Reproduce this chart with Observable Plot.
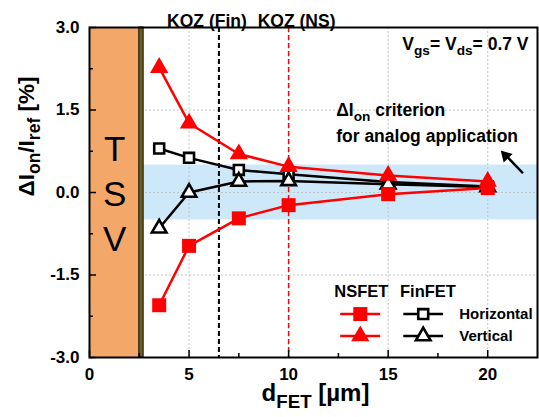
<!DOCTYPE html>
<html>
<head>
<meta charset="utf-8">
<script src="https://cdn.jsdelivr.net/npm/d3@7"></script>
<script src="https://cdn.jsdelivr.net/npm/@observablehq/plot@0.6"></script>
<style>
  html, body { margin: 0; padding: 0; background: #fff; }
  #chart svg { font-family: "Liberation Sans", Arial, sans-serif; }
</style>
</head>
<body>
<div id="chart"></div>
<script>
// ---- data ----
const dFET = [3.5, 5, 7.5, 10, 15, 20];
const nsHorizontal = [-2.05, -0.97, -0.47, -0.23, -0.03, 0.08];
const nsVertical = [2.27, 1.26, 0.70, 0.47, 0.31, 0.20];
const finHorizontal = [0.80, 0.63, 0.41, 0.33, 0.19, 0.11];
const finVertical = [-0.65, 0.0, 0.20, 0.21, 0.15, 0.10];

const xTicks = [0, 5, 10, 15, 20];
const xMinor = [2.5, 7.5, 12.5, 17.5];
const yTicks = [-3, -1.5, 0, 1.5, 3];
const yMinor = [-2.25, -0.75, 0.75, 2.25];
const gridX = [5, 10, 15, 20];
const gridY = [-1.5, 0, 1.5];

const tsvRegion = [{x1: 0, x2: 2.5}];
const tsvLiner = [{x1: 2.5, x2: 2.72}];
const criterionBand = [{x1: 2.72, x2: 22.5, y1: -0.5, y2: 0.5}];
const kozFin = 6.5;
const kozNS = 10;

const legendHeaders = [{label: "NSFET", x: 13.65}, {label: "FinFET", x: 17.0}];
const legendRows = [
  {name: "Horizontal", y: -2.21},
  {name: "Vertical", y: -2.61}
];

const toRows = (vals) => dFET.map((x, i) => ({x, y: vals[i]}));

const W = 539, H = 417;
const ML = 89, MR = 2, MT = 27, MB = 60;
const frameW = W - ML - MR, frameH = H - MT - MB;

const plot = Plot.plot({
  width: W, height: H,
  marginLeft: ML, marginRight: MR, marginTop: MT, marginBottom: MB,
  style: {fontFamily: '"Liberation Sans", Arial, sans-serif', background: "#fff"},
  x: {domain: [0, 22.5]},
  y: {domain: [-3, 3]},
  marks: [
    // criterion band
    Plot.rect(criterionBand, {x1: "x1", x2: "x2", y1: "y1", y2: "y2", fill: "#cde8f9"}),
    // grid
    Plot.ruleX(gridX, {x: d => d, stroke: "#c4c4c4", strokeWidth: 1, strokeDasharray: "2,2"}),
    Plot.ruleY(gridY, {y: d => d, stroke: "#c4c4c4", strokeWidth: 1, strokeDasharray: "2,2"}),
    // TSV
    Plot.rect(tsvRegion, {x1: "x1", x2: "x2", y1: -3, y2: 3, fill: "#f3a86a"}),
    Plot.rect(tsvLiner, {x1: "x1", x2: "x2", y1: -3, y2: 3, fill: "#6b5e1c", stroke: "#111", strokeWidth: 1}),
    Plot.text(["T\nS\nV"], {x: 1.27, y: 0.02, fontSize: 35, lineHeight: 1.29, fill: "#000", fontWeight: "normal"}),
    // KOZ lines
    Plot.ruleX([kozFin], {x: d => d, stroke: "#000", strokeWidth: 2, strokeDasharray: "5,3"}),
    Plot.ruleX([kozNS], {x: d => d, stroke: "#ff0000", strokeWidth: 1.5, strokeDasharray: "5,3"}),
    Plot.text(["KOZ (Fin)"], {x: kozFin, frameAnchor: "top", dy: -13, dx: -12, fontSize: 17.5, fontWeight: "bold", fill: "#000"}),
    Plot.text(["KOZ (NS)"], {x: kozNS, frameAnchor: "top", dy: -13, dx: 8, fontSize: 17.5, fontWeight: "bold", fill: "#000"}),
    // inward ticks
    Plot.tickX(xTicks, {x: d => d, insetTop: frameH - 7, stroke: "#000", strokeWidth: 1.5}),
    Plot.tickX(xMinor, {x: d => d, insetTop: frameH - 4, stroke: "#000", strokeWidth: 1.5}),
    Plot.tickY(yTicks, {y: d => d, insetRight: frameW - 7, stroke: "#000", strokeWidth: 1.5}),
    Plot.tickY(yMinor, {y: d => d, insetRight: frameW - 4, stroke: "#000", strokeWidth: 1.5}),
    // axes labels
    Plot.axisX({ticks: xTicks, tickSize: 0, tickPadding: 10, fontSize: 17, fontWeight: "bold", label: null, tickFormat: d => String(d)}),
    Plot.axisY({ticks: yTicks, tickSize: 0, tickPadding: 10, fontSize: 17, fontWeight: "bold", label: null, tickFormat: d => d.toFixed(1)}),
    Plot.text(["d_{FET} [µm]"], {frameAnchor: "bottom", dy: 43, dx: 2, fontSize: 24, fontWeight: "bold", fill: "#000"}),
    Plot.text(["ΔI_{on}/I_{ref} [%]"], {frameAnchor: "left", dx: -63, dy: 4, rotate: -90, fontSize: 22.5, fontWeight: "bold", fill: "#000"}),
    // FinFET series
    Plot.line(toRows(finHorizontal), {x: "x", y: "y", stroke: "#000", strokeWidth: 2.5}),
    Plot.line(toRows(finVertical), {x: "x", y: "y", stroke: "#000", strokeWidth: 2.5}),
    Plot.dot(toRows(finHorizontal), {x: "x", y: "y", symbol: "square", r: 5.6, fill: "#fff", stroke: "#000", strokeWidth: 2.6}),
    Plot.dot(toRows(finVertical), {x: "x", y: "y", symbol: "triangle", r: 5.4, fill: "#fff", stroke: "#000", strokeWidth: 2.6}),
    // NSFET series
    Plot.line(toRows(nsHorizontal), {x: "x", y: "y", stroke: "#ff0000", strokeWidth: 2.5}),
    Plot.line(toRows(nsVertical), {x: "x", y: "y", stroke: "#ff0000", strokeWidth: 2.5}),
    Plot.dot(toRows(nsHorizontal), {x: "x", y: "y", symbol: "square", r: 7.9, fill: "#ff0000"}),
    Plot.dot(toRows(nsVertical), {x: "x", y: "y", symbol: "triangle", r: 6.8, fill: "#ff0000"}),
    // annotations
    Plot.text(["V_{gs}= V_{ds}= 0.7 V"], {x: 22.05, y: 2.69, textAnchor: "end", fontSize: 17.5, fontWeight: "bold", fill: "#000"}),
    Plot.text(["ΔI_{on} criterion"], {x: 12.39, y: 1.49, textAnchor: "start", fontSize: 17.5, fontWeight: "bold", fill: "#000"}),
    Plot.text(["for analog application"], {x: 12.39, y: 1.02, textAnchor: "start", fontSize: 17.5, fontWeight: "bold", fill: "#000"}),
    Plot.link([{x1: 21.77, y1: 0.35, x2: 20.95, y2: 0.66}], {x1: "x1", y1: "y1", x2: "x2", y2: "y2", stroke: "#000", strokeWidth: 2.5}),
    Plot.dot([{x: 20.9, y: 0.67}], {x: "x", y: "y", symbol: "triangle", r: 4.6, fill: "#000", rotate: -44}),
    // legend
    Plot.text(legendHeaders, {x: "x", y: -1.8, text: "label", fontSize: 16.5, fontWeight: "bold", fill: "#000"}),
    Plot.link(legendRows, {x1: 12.59, x2: 14.6, y1: "y", y2: "y", stroke: "#ff0000", strokeWidth: 2.5}),
    Plot.link(legendRows, {x1: 15.76, x2: 17.76, y1: "y", y2: "y", stroke: "#000", strokeWidth: 2.5}),
    Plot.dot(legendRows.slice(0, 1), {x: 13.6, y: "y", symbol: "square", r: 7.9, fill: "#ff0000"}),
    Plot.dot(legendRows.slice(1), {x: 13.6, y: "y", symbol: "triangle", r: 6.8, fill: "#ff0000"}),
    Plot.dot(legendRows.slice(0, 1), {x: 16.76, y: "y", symbol: "square", r: 5.6, fill: "#fff", stroke: "#000", strokeWidth: 2.6}),
    Plot.dot(legendRows.slice(1), {x: 16.76, y: "y", symbol: "triangle", r: 5.4, fill: "#fff", stroke: "#000", strokeWidth: 2.6}),
    Plot.text(legendRows, {x: 18.57, y: "y", text: "name", textAnchor: "start", fontSize: 15, fontWeight: "bold", fill: "#000"}),
    // frame
    Plot.frame({stroke: "#000", strokeWidth: 2})
  ]
});

document.getElementById("chart").appendChild(plot);

// convert "_{...}" markup into subscript tspans
plot.querySelectorAll("text").forEach(el => {
  const s = el.textContent;
  if (!s.includes("_{")) return;
  const fs = parseFloat(getComputedStyle(el).fontSize) || 16;
  const parts = s.split(/(_\{[^}]*\})/).filter(p => p.length);
  el.textContent = "";
  const shift = 0.3 * fs;
  let down = false;
  const ns = "http://www.w3.org/2000/svg";
  for (const p of parts) {
    const t = document.createElementNS(ns, "tspan");
    if (p.startsWith("_{")) {
      t.textContent = p.slice(2, -1);
      t.setAttribute("font-size", (0.78 * fs).toFixed(2));
      if (!down) { t.setAttribute("dy", shift.toFixed(2)); down = true; }
    } else {
      t.textContent = p;
      if (down) { t.setAttribute("dy", (-shift).toFixed(2)); down = false; }
    }
    el.appendChild(t);
  }
});
</script>
</body>
</html>
